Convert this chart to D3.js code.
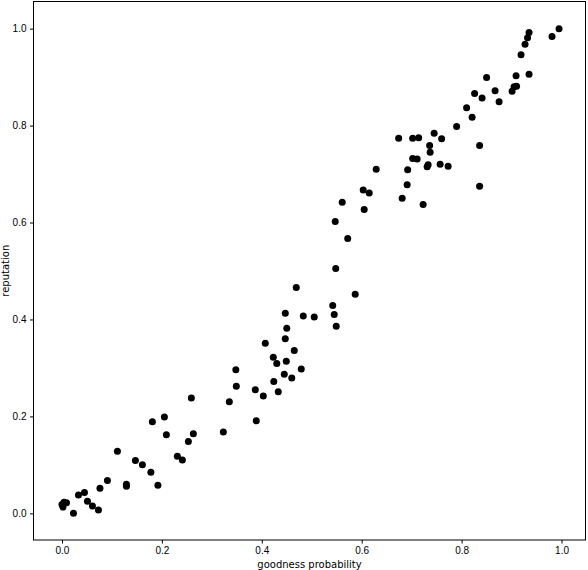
<!DOCTYPE html>
<html>
<head>
<meta charset="utf-8">
<script src="https://cdn.jsdelivr.net/npm/d3@7"></script>
<style>
  body { margin: 0; background: #fff; }
  svg { display: block; font-family: "DejaVu Sans", sans-serif; }
</style>
</head>
<body>
<div id="chart"></div>
<script>
// goodness probability (x) vs reputation (y)
var goodness = [
  0.000, 0.002, 0.004, 0.009, 0.023, 0.033, 0.045, 0.051, 0.061, 0.073,
  0.076, 0.091, 0.111, 0.129, 0.129, 0.147, 0.161, 0.178, 0.192, 0.181,
  0.205, 0.209, 0.231, 0.241, 0.253, 0.259, 0.263, 0.323, 0.335, 0.348,
  0.349, 0.387, 0.403, 0.389, 0.424, 0.433, 0.445, 0.460, 0.479, 0.407,
  0.423, 0.430, 0.449, 0.465, 0.447, 0.450, 0.447, 0.469, 0.483, 0.505,
  0.542, 0.545, 0.549, 0.587, 0.548, 0.572, 0.547, 0.561, 0.605, 0.603,
  0.615, 0.629, 0.681, 0.691, 0.692, 0.723, 0.674, 0.702, 0.714, 0.702,
  0.711, 0.736, 0.737, 0.733, 0.731, 0.757, 0.773, 0.745, 0.760, 0.790,
  0.810, 0.821, 0.836, 0.836, 0.826, 0.841, 0.850, 0.867, 0.875, 0.901,
  0.905, 0.910, 0.909, 0.935, 0.919, 0.927, 0.932, 0.935, 0.981, 0.995
];
var reputation = [
  0.018, 0.013, 0.023, 0.022, 0.000, 0.038, 0.043, 0.025, 0.015, 0.007,
  0.052, 0.068, 0.128, 0.060, 0.056, 0.109, 0.100, 0.085, 0.058, 0.189,
  0.199, 0.162, 0.118, 0.110, 0.148, 0.238, 0.164, 0.168, 0.230, 0.296,
  0.262, 0.255, 0.242, 0.191, 0.272, 0.251, 0.287, 0.279, 0.298, 0.351,
  0.322, 0.309, 0.314, 0.336, 0.360, 0.382, 0.413, 0.466, 0.407, 0.405,
  0.429, 0.410, 0.386, 0.452, 0.505, 0.567, 0.602, 0.642, 0.627, 0.667,
  0.661, 0.710, 0.650, 0.678, 0.709, 0.637, 0.774, 0.774, 0.775, 0.732,
  0.731, 0.759, 0.745, 0.719, 0.715, 0.720, 0.716, 0.784, 0.773, 0.798,
  0.837, 0.817, 0.759, 0.675, 0.866, 0.857, 0.899, 0.872, 0.849, 0.871,
  0.880, 0.881, 0.903, 0.906, 0.946, 0.968, 0.981, 0.992, 0.984, 1.000
];
var xTicks = [0, 0.2, 0.4, 0.6, 0.8, 1.0];
var yTicks = [0, 0.2, 0.4, 0.6, 0.8, 1.0];

var width = 588, height = 570;
var margin = {top: 1.5, right: 2.5, bottom: 30, left: 33.5};

var svg = d3.select('#chart')
    .append('svg')
    .attr('width', width)
    .attr('height', height);

var x = d3.scaleLinear()
    .domain([-0.057, 1.048])
    .range([margin.left, width - margin.right]);

var y = d3.scaleLinear()
    .domain([-0.055, 1.056])
    .range([height - margin.bottom, margin.top]);

var fmt = d3.format('.1f');

var xAxis = svg.append('g')
    .attr('transform', 'translate(0,' + (height - margin.bottom) + ')')
    .call(d3.axisBottom(x).tickValues(xTicks).tickFormat(fmt).tickSize(3.5).tickPadding(3.5));

var yAxis = svg.append('g')
    .attr('transform', 'translate(' + margin.left + ',0)')
    .call(d3.axisLeft(y).tickValues(yTicks).tickFormat(fmt).tickSize(3.5).tickPadding(3.5));

[xAxis, yAxis].forEach(function (g) {
    g.select('.domain').remove();
    g.selectAll('line').attr('stroke', '#000').attr('stroke-width', 1);
    g.selectAll('text').attr('fill', '#000').style('font-size', '10px');
});

// frame
svg.append('rect')
    .attr('x', margin.left)
    .attr('y', margin.top)
    .attr('width', width - margin.left - margin.right)
    .attr('height', height - margin.top - margin.bottom)
    .attr('fill', 'none')
    .attr('stroke', '#000')
    .attr('stroke-width', 1);

svg.append('g')
    .selectAll('circle')
    .data(d3.range(goodness.length))
    .join('circle')
    .attr('cx', function (i) { return x(goodness[i]); })
    .attr('cy', function (i) { return y(reputation[i]); })
    .attr('r', 3.5)
    .attr('fill', '#000');

svg.append('text')
    .attr('x', (margin.left + width - margin.right) / 2)
    .attr('y', height - 2)
    .attr('text-anchor', 'middle')
    .style('font-size', '10px')
    .text('goodness probability');

svg.append('text')
    .attr('transform', 'translate(9,' + ((margin.top + height - margin.bottom) / 2) + ') rotate(-90)')
    .attr('text-anchor', 'middle')
    .style('font-size', '10px')
    .text('reputation');
</script>
</body>
</html>
